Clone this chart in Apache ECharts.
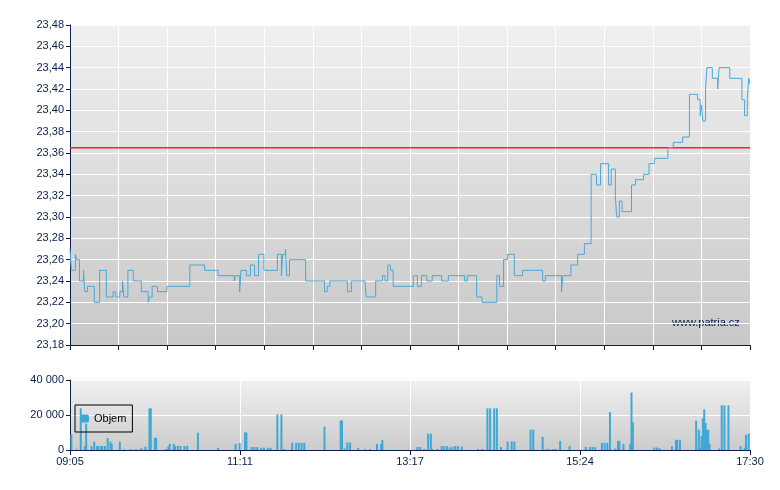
<!DOCTYPE html>
<html>
<head>
<meta charset="UTF-8">
<script src="https://cdn.jsdelivr.net/npm/echarts/dist/echarts.min.js"></script>
<style>body{margin:0;background:#fff}#chart{width:780px;height:490px}</style>
</head>
<body>
<div id="chart"></div>
<script>
// minutes after 09:05
var priceTimes = [0,1,4,5,7,10,11,13,18,22,27,32,34,37,39,40,43,47,53,58,59,61,65,72,89,100,110,122,123,126,127,131,134,137,140,144,154,157,158,160,161,163,175,189,191,193,206,209,219,220,227,232,234,236,238,240,255,258,261,265,269,276,281,293,295,302,306,317,319,322,325,330,336,342,351,353,362,365,366,372,377,382,387,391,394,400,402,405,406,408,410,417,420,426,430,434,439,444,448,455,460,466,468,469,470,472,473,477,481,482,490,499,501,503,504,505];
var priceValues = [23.27,23.25,23.265,23.26,23.24,23.25,23.23,23.235,23.22,23.25,23.225,23.23,23.225,23.23,23.24,23.225,23.25,23.24,23.23,23.22,23.225,23.235,23.23,23.235,23.255,23.25,23.245,23.24,23.245,23.23,23.25,23.245,23.255,23.245,23.265,23.25,23.265,23.245,23.265,23.27,23.245,23.26,23.24,23.23,23.235,23.24,23.23,23.24,23.24,23.225,23.24,23.245,23.24,23.255,23.25,23.235,23.245,23.235,23.245,23.24,23.245,23.24,23.245,23.24,23.245,23.225,23.22,23.245,23.235,23.26,23.265,23.245,23.25,23.25,23.24,23.245,23.245,23.23,23.245,23.255,23.265,23.275,23.34,23.33,23.35,23.33,23.345,23.32,23.30,23.315,23.305,23.33,23.335,23.34,23.35,23.355,23.355,23.365,23.37,23.375,23.415,23.41,23.395,23.405,23.39,23.42,23.44,23.43,23.42,23.44,23.43,23.41,23.395,23.41,23.43,23.425];
var refPrice = 23.365;
var volTimes = [1,5,8,11,12,16,18,20,21,23,24,26,28,30,31,37,40,45,49,53,56,59,60,63,64,71,73,74,77,78,80,82,85,87,95,110,123,126,130,131,135,137,139,142,144,147,149,154,157,159,165,168,170,172,174,189,201,202,204,206,208,214,219,223,228,231,232,258,260,263,266,268,269,273,276,278,280,282,284,286,288,291,303,306,310,312,315,317,320,325,328,330,342,344,351,354,356,359,361,364,371,383,386,388,390,395,397,399,401,405,407,408,411,416,417,418,434,436,438,447,450,451,453,465,467,468,469,470,471,472,473,474,475,482,484,486,489,498,501,502,504];
var volValues = [8700,400,23800,2300,15100,2300,4800,2300,2300,2300,2300,2300,6800,4800,3500,4800,400,400,600,1000,1900,23800,23800,7000,7000,600,1900,3500,3500,2300,2300,2300,2300,2300,9900,1200,3500,3900,10000,10000,1700,1700,1700,1200,1400,1200,1200,20300,20300,600,4100,4100,4100,4100,4100,13300,16800,16800,800,4300,4300,1200,600,600,3500,3500,5800,1700,1700,600,9300,9300,600,600,2300,2300,2100,1500,1900,2300,2300,1900,600,600,23800,23800,23800,23800,1700,4800,4800,4800,11600,11600,7500,600,400,600,600,5200,2300,1700,1700,1700,1700,4100,4100,4100,21600,800,5200,5200,3500,3500,32800,15800,1400,1400,1000,2100,5800,5800,5800,16800,11600,1400,8000,18000,23200,15500,11600,11600,3500,800,25500,25500,25500,2300,1400,8700,9300];

function toClock(m) {
  var t = 9 * 60 + 5 + Math.round(m - 0.1);
  var h = Math.floor(t / 60), mm = t % 60;
  return (h < 10 ? '0' : '') + h + ':' + (mm < 10 ? '0' : '') + mm;
}
var axisCol = '#0a1f4d';
var bg = new echarts.graphic.LinearGradient(0, 0, 0, 1, [{offset: 0, color: '#f0f0f0'}, {offset: 1, color: '#c8c8c8'}]);
var bg2 = new echarts.graphic.LinearGradient(0, 0, 0, 1, [{offset: 0, color: '#f0f0f0'}, {offset: 1, color: '#cccccc'}]);

var myChart = echarts.init(document.getElementById('chart'));
var option = {
  animation: false,
  grid: [
    {left: 70, top: 25, width: 680, height: 320, show: true, backgroundColor: bg, borderWidth: 0},
    {left: 70, top: 380, width: 680, height: 70, show: true, backgroundColor: bg2, borderWidth: 0}
  ],
  legend: {
    data: ['Objem'], left: 75, top: 405, orient: 'vertical',
    padding: [8, 6, 8, 6], borderColor: '#000', borderWidth: 1,
    itemWidth: 8, itemHeight: 8, itemGap: 0,
    textStyle: {fontFamily: 'Liberation Sans', fontSize: 11, color: '#000'}
  },
  xAxis: [
    {type: 'value', gridIndex: 0, min: 0, max: 505, interval: 505 / 14,
     axisLine: {lineStyle: {color: axisCol}}, axisTick: {length: 5, lineStyle: {color: axisCol}},
     axisLabel: {show: false}, splitLine: {lineStyle: {color: '#fff'}}},
    {type: 'value', gridIndex: 1, min: 0, max: 505, interval: 505 / 4,
     axisLine: {lineStyle: {color: axisCol}}, axisTick: {length: 5, lineStyle: {color: axisCol}},
     axisLabel: {formatter: toClock, color: axisCol, fontFamily: 'Liberation Sans', fontSize: 11, margin: 6},
     splitLine: {lineStyle: {color: '#fff'}}}
  ],
  yAxis: [
    {type: 'value', gridIndex: 0, min: 23.18, max: 23.48, interval: 0.02,
     axisLine: {show: true, lineStyle: {color: axisCol}}, axisTick: {show: true, length: 4, lineStyle: {color: axisCol}},
     axisLabel: {formatter: function (v) { return v.toFixed(2).replace('.', ','); }, color: axisCol, fontFamily: 'Liberation Sans', fontSize: 11, margin: 6},
     splitLine: {lineStyle: {color: '#fff'}}},
    {type: 'value', gridIndex: 1, min: 0, max: 40000, interval: 20000,
     axisLine: {show: true, lineStyle: {color: axisCol}}, axisTick: {show: true, length: 4, lineStyle: {color: axisCol}},
     axisLabel: {formatter: function (v) { return v === 0 ? '0' : String(v).replace(/(\d)(?=(\d{3})+$)/g, '$1 '); }, color: axisCol, fontFamily: 'Liberation Sans', fontSize: 11, margin: 6},
     splitLine: {lineStyle: {color: '#fff'}}}
  ],
  graphic: [
    {type: 'text', left: 672, top: 317, style: {text: 'www.patria.cz', fill: '#0a1f4d', font: '11px "Liberation Sans"'}}
  ],
  series: [
    {name: 'Ref', type: 'line', xAxisIndex: 0, yAxisIndex: 0, symbol: 'none', z: 1,
     lineStyle: {color: '#ff2020', width: 1.5}, itemStyle: {color: '#ff2020'},
     data: [[0, refPrice], [505, refPrice]]},
    {name: 'Cena', type: 'line', xAxisIndex: 0, yAxisIndex: 0, step: 'end', symbol: 'none', z: 2,
     lineStyle: {color: '#4aa8d8', width: 1},
     data: priceTimes.map(function (t, i) { return [t, priceValues[i]]; })},
    {name: 'Objem', type: 'bar', xAxisIndex: 1, yAxisIndex: 1, barWidth: 2,
     itemStyle: {color: '#40a8d4'},
     data: volTimes.map(function (t, i) { return [t, volValues[i]]; })}
  ]
};
myChart.setOption(option);
</script>
</body>
</html>
